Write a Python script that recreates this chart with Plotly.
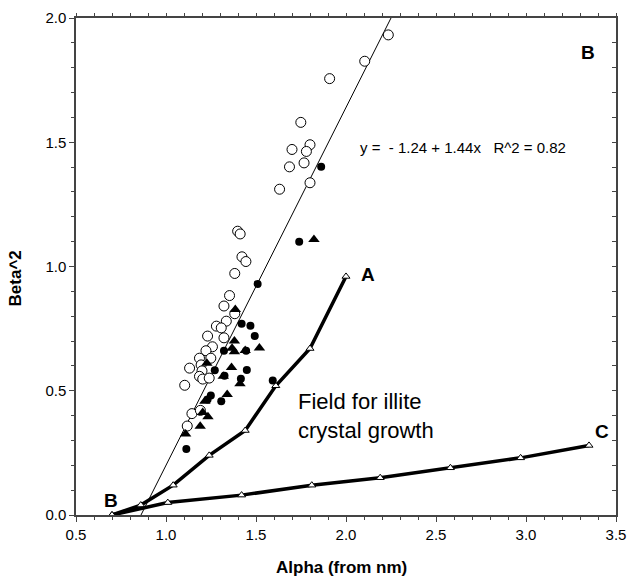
import plotly.graph_objects as go

# ---- data ----
open_x = [2.235, 2.104, 1.909, 1.749, 1.70, 1.80, 1.78, 1.767, 1.686, 1.80, 1.631,
          1.398, 1.412, 1.422, 1.444, 1.382, 1.353, 1.322, 1.382, 1.335, 1.28, 1.307,
          1.231, 1.322, 1.258, 1.222, 1.186, 1.249, 1.131, 1.195, 1.20, 1.186, 1.204,
          1.24, 1.104, 1.144, 1.191, 1.118]
open_y = [1.932, 1.826, 1.756, 1.58, 1.471, 1.49, 1.463, 1.417, 1.401, 1.337, 1.311,
          1.142, 1.131, 1.039, 1.02, 0.972, 0.883, 0.841, 0.81, 0.78, 0.76, 0.753,
          0.72, 0.713, 0.677, 0.661, 0.631, 0.631, 0.591, 0.604, 0.58, 0.558, 0.547,
          0.551, 0.522, 0.408, 0.421, 0.358]

fill_x = [1.862, 1.74, 1.509, 1.42, 1.469, 1.493, 1.322, 1.445, 1.271, 1.325, 1.449,
          1.416, 1.593, 1.249, 1.231, 1.307, 1.113]
fill_y = [1.401, 1.10, 0.93, 0.77, 0.762, 0.72, 0.661, 0.661, 0.582, 0.56, 0.583,
          0.548, 0.541, 0.481, 0.465, 0.458, 0.266]

tri_x = [1.822, 1.385, 1.38, 1.367, 1.38, 1.44, 1.519, 1.227, 1.364, 1.318, 1.411,
         1.34, 1.216, 1.204, 1.233, 1.19, 1.109]
tri_y = [1.109, 0.827, 0.70, 0.671, 0.657, 0.662, 0.672, 0.611, 0.594, 0.558, 0.528,
         0.485, 0.458, 0.412, 0.395, 0.357, 0.326]

curveA_x = [0.70, 0.86, 1.04, 1.24, 1.44, 1.61, 1.80, 2.00]
curveA_y = [0.0, 0.04, 0.12, 0.24, 0.34, 0.52, 0.67, 0.96]

curveC_x = [0.70, 1.01, 1.42, 1.81, 2.19, 2.58, 2.97, 3.35]
curveC_y = [0.0, 0.05, 0.08, 0.12, 0.15, 0.19, 0.23, 0.28]

fit_intercept = -1.24
fit_slope = 1.44
fit_x = [0.861, 2.25]
fit_y = [fit_intercept + fit_slope * v for v in fit_x]

x_ticks = [0.5, 1.0, 1.5, 2.0, 2.5, 3.0, 3.5]
y_ticks = [0.0, 0.5, 1.0, 1.5, 2.0]

FONT = "Liberation Sans, Arial, sans-serif"
AXC = "#444444"

fig = go.Figure()

fig.add_trace(go.Scatter(x=fit_x, y=fit_y, mode="lines",
                         line=dict(color="black", width=1), showlegend=False))
fig.add_trace(go.Scatter(x=curveA_x, y=curveA_y, mode="lines+markers",
                         line=dict(color="black", width=3.5),
                         marker=dict(symbol="triangle-up", size=7, color="white",
                                     line=dict(color="black", width=1)),
                         showlegend=False))
fig.add_trace(go.Scatter(x=curveC_x, y=curveC_y, mode="lines+markers",
                         line=dict(color="black", width=3.5),
                         marker=dict(symbol="triangle-up", size=7, color="white",
                                     line=dict(color="black", width=1)),
                         showlegend=False))
fig.add_trace(go.Scatter(x=open_x, y=open_y, mode="markers",
                         marker=dict(symbol="circle", size=10, color="white",
                                     line=dict(color="black", width=1)),
                         showlegend=False))
fig.add_trace(go.Scatter(x=fill_x, y=fill_y, mode="markers",
                         marker=dict(symbol="circle", size=8, color="black"),
                         showlegend=False))
fig.add_trace(go.Scatter(x=tri_x, y=tri_y, mode="markers",
                         marker=dict(symbol="triangle-up", size=10, color="black"),
                         showlegend=False))
# invisible trace to anchor overlay axes
fig.add_trace(go.Scatter(x=[None], y=[None], xaxis="x2", yaxis="y2",
                         showlegend=False, hoverinfo="skip"))

fig.update_layout(
    width=635, height=580,
    margin=dict(l=76, r=9, t=13, b=65),
    paper_bgcolor="white", plot_bgcolor="white",
    font=dict(family=FONT, size=15, color="black"),
    xaxis=dict(range=[0.5, 3.5], tickvals=x_ticks, ticktext=[f"{v:.1f}" for v in x_ticks],
               ticks="outside", ticklen=5, tickwidth=1, tickcolor=AXC,
               showline=True, linecolor=AXC, linewidth=1.5, mirror=True,
               showgrid=False, zeroline=False,
               minor=dict(dtick=0.1, ticks="outside", ticklen=3, tickcolor=AXC, showgrid=False),
               tickfont=dict(size=15)),
    yaxis=dict(range=[0, 2.0], tickvals=y_ticks, ticktext=[f"{v:.1f}" for v in y_ticks],
               ticks="outside", ticklen=5, tickwidth=1, tickcolor=AXC,
               showline=True, linecolor=AXC, linewidth=1.5, mirror=True,
               showgrid=False, zeroline=False,
               minor=dict(dtick=0.1, ticks="outside", ticklen=3, tickcolor=AXC, showgrid=False),
               tickfont=dict(size=15)),
    xaxis2=dict(range=[0.5, 3.5], overlaying="x", side="top", anchor="y",
                tickvals=x_ticks, showticklabels=False,
                ticks="outside", ticklen=4, tickcolor=AXC, showline=False,
                showgrid=False, zeroline=False,
                minor=dict(dtick=0.1, ticks="outside", ticklen=4, tickcolor=AXC, showgrid=False)),
    yaxis2=dict(range=[0, 2.0], overlaying="y", side="right", anchor="x",
                tickvals=y_ticks, showticklabels=False,
                ticks="inside", ticklen=4, tickcolor=AXC, showline=False,
                showgrid=False, zeroline=False,
                minor=dict(dtick=0.1, ticks="inside", ticklen=4, tickcolor=AXC, showgrid=False)),
)

nb = "\u00a0"
annos = [
    dict(x=2.65, y=1.478, text=f"y ={nb} - 1.24 + 1.44x{nb}{nb} R^2 = 0.82",
         font=dict(size=15)),
    dict(x=3.342, y=1.861, text="<b>B</b>", font=dict(size=19)),
    dict(x=0.696, y=0.06, text="<b>B</b>", font=dict(size=19)),
    dict(x=2.12, y=0.968, text="<b>A</b>", font=dict(size=19)),
    dict(x=3.424, y=0.335, text="<b>C</b>", font=dict(size=19)),
    dict(x=1.722, y=0.398, text="Field for illite<br>crystal growth", xanchor="left",
         align="left", font=dict(size=22)),
]
for a in annos:
    a.setdefault("xanchor", "center")
    fig.add_annotation(xref="x", yref="y", showarrow=False, yanchor="middle", **a)

fig.add_annotation(xref="paper", yref="paper", x=0.492, y=-0.105, yanchor="middle",
                   text="<b>Alpha (from nm)</b>", showarrow=False, font=dict(size=17))
fig.add_annotation(xref="paper", yref="paper", x=-0.113, y=0.476, xanchor="center",
                   yanchor="middle", textangle=-90,
                   text="<b>Beta^2</b>", showarrow=False, font=dict(size=17))

fig.write_html("out.html")
